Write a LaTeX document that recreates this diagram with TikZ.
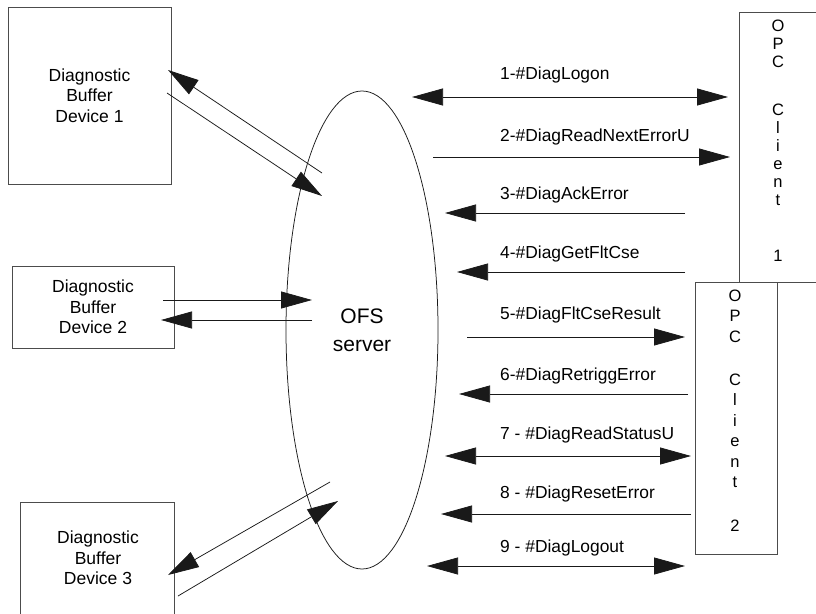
\documentclass[tikz,border=0pt]{standalone}
\usepackage{fontspec}
\setmainfont{Liberation Sans}
\usetikzlibrary{arrows.meta,shapes.geometric}
\begin{document}
\begin{tikzpicture}[x=1pt,y=-1pt,
  >={Triangle[length=31pt,width=17pt]},
  box/.style={draw=black!70, line width=0.8pt, inner sep=0pt, align=center,
    font=\fontsize{17.5}{20.5}\selectfont},
  btext/.style={inner sep=0pt, align=center, font=\fontsize{17.5}{20.5}\selectfont},
  lbl/.style={inner sep=0pt, anchor=base west, font=\fontsize{17.4}{20}\selectfont},
  vlet/.style={inner sep=0pt, anchor=base, font=\fontsize{16.5}{18}\selectfont},
  link/.style={line width=0.75pt, draw=black!90}]
\useasboundingbox (0,0) rectangle (816,613);
\clip (0,0) rectangle (816,613);

% device boxes
\node[box, minimum width=163pt, minimum height=177pt] (dev1) at (89.5,95.5) {Diagnostic\\Buffer\\Device 1};
\node[box, minimum width=162pt, minimum height=82pt] (dev2) at (93,307) {Diagnostic\\Buffer\\Device 2};
\node[box, minimum width=154pt, minimum height=150pt, anchor=north] (dev3) at (97,502) {};
\node[btext] (dev3t) at (98,558) {Diagnostic\\Buffer\\Device 3};

% server
\node[draw=black!90, ellipse, line width=0.75pt, minimum width=152pt, minimum height=478pt,
  inner sep=0pt, align=center, font=\fontsize{21}{28}\selectfont] (ofs) at (362,330) {OFS\\server};

% clients
\node[box, minimum width=100pt, minimum height=270pt, anchor=north west] (opc1) at (739,12) {};
\node[box, minimum width=82pt, minimum height=272pt, anchor=north west] (opc2) at (695,282) {};
\foreach \ch/\yy [count=\i] in {O/31,P/49,C/67,C/115,l/133,i/151,e/169,n/187,t/205,1/261}
  \node[vlet] (opcA\i) at (778,\yy) {\ch};
\foreach \ch/\yy [count=\i] in {O/301,P/321,C/342,C/385,l/405,i/426,e/446,n/467,t/487,2/531}
  \node[vlet] (opcB\i) at (735,\yy) {\ch};

% device links
\coordinate (d1a) at (322,173); \coordinate (d1b) at (168,70);
\coordinate (d1c) at (167,93);  \coordinate (d1d) at (322,196);
\coordinate (d2a) at (163,300); \coordinate (d2b) at (312,300);
\coordinate (d2c) at (312,320); \coordinate (d2d) at (161,320);
\coordinate (d3a) at (330,482); \coordinate (d3b) at (168,575);
\coordinate (d3c) at (178,596); \coordinate (d3d) at (338,501);
\draw[link,->] (d1a) -- (d1b);
\draw[link,->] (d1c) -- (d1d);
\draw[link,->] (d2a) -- (d2b);
\draw[link,->] (d2c) -- (d2d);
\draw[link,->] (d3a) -- (d3b);
\draw[link,->] (d3c) -- (d3d);

% messages
\coordinate (m1a) at (412,97);  \coordinate (m1b) at (728,97);
\coordinate (m2a) at (433,157); \coordinate (m2b) at (730,157);
\coordinate (m3a) at (685,213); \coordinate (m3b) at (445,213);
\coordinate (m4a) at (685,272); \coordinate (m4b) at (457,272);
\coordinate (m5a) at (467,337); \coordinate (m5b) at (685,337);
\coordinate (m6a) at (688,394); \coordinate (m6b) at (459,394);
\coordinate (m7a) at (445,456); \coordinate (m7b) at (691,456);
\coordinate (m8a) at (691,514); \coordinate (m8b) at (441,514);
\coordinate (m9a) at (427,566); \coordinate (m9b) at (685,566);
\draw[link,<->] (m1a) -- (m1b);
\draw[link,->] (m2a) -- (m2b);
\draw[link,->] (m3a) -- (m3b);
\draw[link,->] (m4a) -- (m4b);
\draw[link,->] (m5a) -- (m5b);
\draw[link,->] (m6a) -- (m6b);
\draw[link,<->] (m7a) -- (m7b);
\draw[link,->] (m8a) -- (m8b);
\draw[link,<->] (m9a) -- (m9b);

\node[lbl] (l1) at (500,79)  {1-\#DiagLogon};
\node[lbl] (l2) at (500,141) {2-\#DiagReadNextErrorU};
\node[lbl] (l3) at (500,199) {3-\#DiagAckError};
\node[lbl] (l4) at (500,258) {4-\#DiagGetFltCse};
\node[lbl] (l5) at (500,319) {5-\#DiagFltCseResult};
\node[lbl] (l6) at (500,380) {6-\#DiagRetriggError};
\node[lbl] (l7) at (500,439) {7 - \#DiagReadStatusU};
\node[lbl] (l8) at (500,498) {8 - \#DiagResetError};
\node[lbl] (l9) at (500,552) {9 - \#DiagLogout};
\end{tikzpicture}
\end{document}
